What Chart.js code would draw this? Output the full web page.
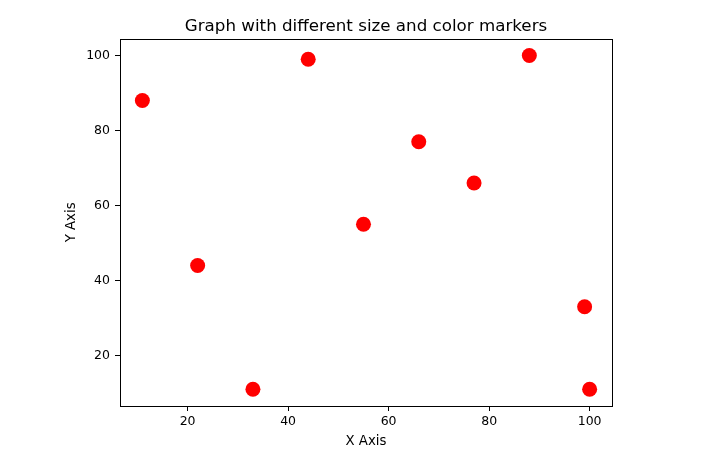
<!DOCTYPE html>
<html>
<head>
<meta charset="utf-8">
<script src="https://cdn.jsdelivr.net/npm/chart.js@4"></script>
<style>
  body { margin: 0; background: #fff; }
  canvas { display: block; }
</style>
</head>
<body>
<canvas id="chart" width="715" height="451"></canvas>
<script>
const xValues = [11, 22, 33, 44, 55, 66, 77, 88, 99, 100]
const yValues = [88, 44, 11, 99, 55, 77, 66, 100, 33, 11]
const xTicks = [20, 40, 60, 80, 100]
const yTicks = [20, 40, 60, 80, 100]

const chartCanvas = document.getElementById("chart")
const font = "DejaVu Sans"

// matplotlib style frame round the plot area
const framePlugin = {
  id: 'frame',
  afterDraw(chart) {
    const { ctx, chartArea: a } = chart
    ctx.save()
    ctx.strokeStyle = '#000'
    ctx.lineWidth = 1
    ctx.strokeRect(Math.round(a.left) + 0.5, Math.round(a.top) + 0.5,
      Math.round(a.right - a.left), Math.round(a.bottom - a.top))
    ctx.restore()
  }
}

// 5% margin like matplotlib
function padRange(vals) {
  const lo = Math.min(...vals), hi = Math.max(...vals)
  const m = (hi - lo) * 0.05
  return { min: lo - m, max: hi + m }
}
const xr = padRange(xValues)
const yr = padRange(yValues)

const points = xValues.map((x, i) => ({ x: x, y: yValues[i] }))

new Chart(chartCanvas, {
  type: 'scatter',
  data: {
    datasets: [{
      data: points,
      backgroundColor: '#ff0000',
      borderColor: '#ff0000',
      borderWidth: 0,
      pointRadius: 7.5,
      pointHoverRadius: 7.5
    }]
  },
  options: {
    responsive: false,
    animation: false,
    events: [],
    layout: { padding: { left: 0, right: 103, top: 0, bottom: 0 } },
    plugins: {
      legend: { display: false },
      tooltip: { enabled: false },
      title: {
        display: true,
        fullSize: false,
        text: 'Graph with different size and color markers',
        color: '#000',
        font: { family: font, size: 16.7, weight: 'normal' },
        padding: { top: 16.5, bottom: 2.2 }
      }
    },
    scales: {
      x: {
        type: 'linear',
        min: xr.min,
        max: xr.max,
        afterBuildTicks: s => { s.ticks = xTicks.map(v => ({ value: v })) },
        afterFit: s => { s.height = 45 },
        grid: { drawOnChartArea: false, tickLength: 5, color: '#000' },
        border: { display: false },
        ticks: { color: '#000', padding: 3, font: { family: font, size: 12.5 } },
        title: {
          display: true, text: 'X Axis', color: '#000',
          font: { family: font, size: 13.3 }, padding: { bottom: 1.5 }
        }
      },
      y: {
        type: 'linear',
        min: yr.min,
        max: yr.max,
        afterBuildTicks: s => { s.ticks = yTicks.map(v => ({ value: v })) },
        afterFit: s => { s.width = 120 },
        grid: { drawOnChartArea: false, tickLength: 5, color: '#000' },
        border: { display: false },
        ticks: { color: '#000', padding: 5, font: { family: font, size: 12.5 } },
        title: {
          display: true, text: 'Y Axis', color: '#000',
          font: { family: font, size: 13.3 }, padding: { top: 64 }
        }
      }
    }
  },
  plugins: [framePlugin]
})
</script>
</body>
</html>
